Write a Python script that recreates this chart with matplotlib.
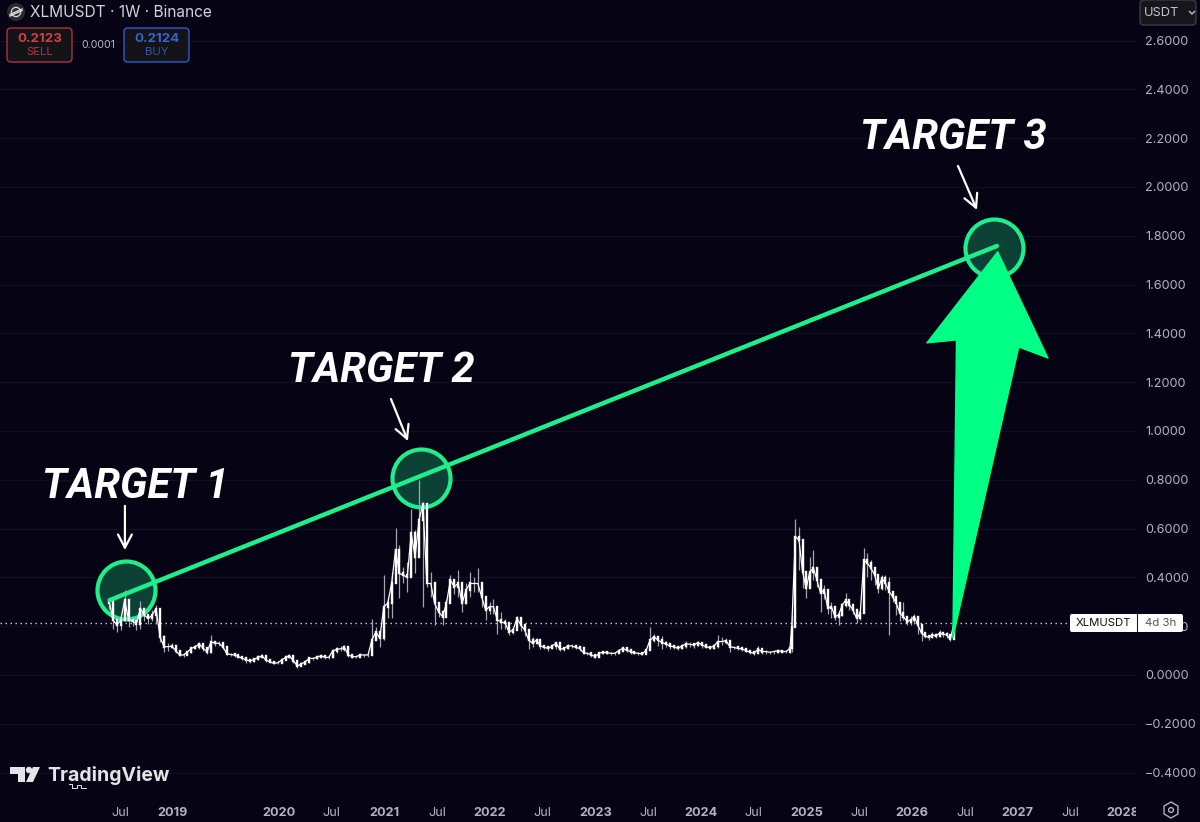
import matplotlib
matplotlib.use('Agg')
import matplotlib.pyplot as plt
import numpy as np
from matplotlib.patches import Circle, FancyBboxPatch, Polygon, RegularPolygon
from matplotlib.transforms import Bbox, TransformedBbox

# candles in four stretches
closes_a = [.307,.225,.205,.225,.307,.225,.22,.21,.272,.245,
            .232,.245,.272,.157,.116,.116,.118,.10,.082,.082,
            .095,.109,.116,.127,.109,.095,.136,.13,.13,.116,
            .088,.084,.082,.075,.068,.061,.058,.064,.072,.078,
            .061,.054,.048,.05,.061,.072,.078,.058,.037,.045,
            .054,.068,.068,.072,.079,.072,.072,.098,.105,.107,
            .113,.082,.075,.075,.082,.082,.082,.143]
highs_a = [.31,.29,.225,.245,.35,.245,.24,.23,.305,.272,
           .25,.265,.287,.21,.163,.13,.13,.118,.10,.09,
           .10,.115,.122,.135,.125,.105,.163,.14,.138,.13,
           .105,.09,.088,.082,.075,.075,.065,.07,.08,.088,
           .075,.062,.056,.056,.068,.08,.088,.08,.05,.052,
           .06,.075,.075,.08,.088,.08,.08,.105,.115,.118,
           .122,.113,.085,.082,.09,.088,.09,.23]
lows_a = [.27,.19,.177,.185,.22,.195,.2,.185,.19,.22,
          .21,.22,.21,.136,.095,.1,.109,.09,.076,.075,
          .08,.09,.105,.105,.1,.085,.09,.12,.118,.105,
          .08,.078,.075,.068,.06,.05,.05,.055,.06,.07,
          .055,.048,.044,.044,.048,.06,.07,.05,.03,.036,
          .045,.05,.06,.065,.07,.065,.065,.07,.09,.098,
          .098,.075,.068,.068,.072,.074,.074,.08]

closes_b = [.177,.15,.28,.293,.375,.512,.416,.409,.40,.58,
            .484,.634,.702,.375,.375,.293,.259,.239,.293,.389,
            .362,.375,.293,.348,.375,.375,.375,.32,.266,.28,
            .28,.225,.218,.211,.177,.184,.232,.205,.184,.143,
            .13,.143,.119,.113,.109,.119,.13,.105,.109,.119,
            .119,.113,.109,.091,.089,.082,.075,.089,.094,.091,
            .089,.089,.10,.109,.102,.095,.091,.089,.086,.102,
            .143,.157,.143]
highs_b = [.198,.177,.41,.32,.423,.604,.532,.443,.464,.682,
           .593,.798,.71,.468,.423,.32,.28,.265,.31,.409,
           .39,.43,.32,.375,.423,.40,.44,.36,.30,.30,
           .31,.26,.26,.23,.195,.195,.24,.225,.195,.155,
           .157,.15,.135,.12,.115,.125,.137,.115,.115,.125,
           .125,.12,.115,.1,.095,.088,.082,.095,.1,.098,
           .095,.095,.108,.115,.11,.102,.098,.095,.092,.11,
           .198,.17,.155]
lows_b = [.143,.113,.143,.232,.232,.416,.314,.375,.341,.402,
          .416,.498,.28,.36,.32,.205,.239,.205,.26,.307,
          .33,.32,.259,.29,.32,.34,.34,.28,.225,.25,
          .25,.17,.19,.19,.163,.17,.2,.18,.16,.105,
          .115,.125,.108,.105,.1,.105,.105,.098,.1,.108,
          .11,.105,.098,.085,.08,.075,.07,.075,.088,.085,
          .082,.082,.09,.1,.095,.088,.085,.082,.08,.085,
          .105,.135,.12]

closes_c = [.133,.127,.119,.116,.109,.119,.127,.126,.123,.133,
            .123,.116,.112,.119,.137,.137,.141,.116,.113,.109,
            .107,.10,.093,.089,.105,.096,.096,.093,.096,.10,
            .096,.096,.109]
highs_c = [.16,.14,.128,.122,.116,.128,.14,.136,.132,.14,
           .13,.122,.118,.125,.164,.155,.15,.135,.12,.115,
           .112,.106,.10,.10,.118,.108,.104,.1,.102,.106,
           .102,.102,.118]
lows_c = [.105,.115,.108,.108,.103,.105,.112,.115,.112,.118,
          .112,.11,.106,.108,.112,.122,.125,.096,.107,.103,
          .1,.094,.086,.08,.085,.086,.088,.086,.088,.09,
          .09,.09,.092]

closes_d = [.198,.567,.553,.423,.355,.423,.437,.389,.335,.348,
            .273,.28,.239,.246,.287,.307,.287,.266,.232,.253,
            .471,.458,.437,.41,.355,.396,.376,.342,.321,.294,
            .253,.239,.219,.225,.239,.205,.171,.16,.154,.164,
            .16,.171,.167,.164,.146,.2123]
highs_d = [.246,.638,.608,.492,.423,.485,.512,.444,.369,.369,
           .31,.30,.26,.26,.295,.335,.30,.28,.245,.27,
           .519,.50,.47,.425,.40,.41,.41,.40,.335,.31,
           .29,.30,.235,.24,.25,.24,.205,.172,.165,.175,
           .172,.185,.178,.175,.17,.30]
lows_d = [.096,.198,.43,.355,.314,.355,.39,.36,.26,.31,
          .25,.232,.225,.205,.24,.28,.265,.25,.215,.225,
          .253,.403,.39,.37,.335,.35,.35,.164,.30,.247,
          .22,.225,.205,.205,.21,.17,.14,.15,.145,.15,
          .15,.155,.155,.15,.14,.146]

# first and last year of each stretch
spans = [(2018.394, 2020.884), (2020.922, 2023.593), (2023.63, 2024.843), (2024.86, 2026.396)]

price_ticks = [-0.4, -0.2, 0.0, 0.2, 0.4, 0.6, 0.8, 1.0, 1.2, 1.4, 1.6, 1.8, 2.0, 2.2, 2.4, 2.6]
time_ticks = [2018.5, 2019, 2020, 2020.5, 2021, 2021.5, 2022, 2022.5, 2023, 2023.5,
              2024, 2024.5, 2025, 2025.5, 2026, 2026.5, 2027, 2027.5, 2028]
time_labels = ['Jul', '2019', '2020', 'Jul', '2021', 'Jul', '2022', 'Jul', '2023', 'Jul',
               '2024', 'Jul', '2025', 'Jul', '2026', 'Jul', '2027', 'Jul', '2028']

last_price = 0.2123
trend_years = [2018.403, 2026.803]
trend_prices = [0.307, 1.758]
target_names = ['TARGET 1', 'TARGET 2', 'TARGET 3']
target_years = [2018.555, 2021.348, 2026.775]
target_prices = [0.348, 0.807, 1.75]
label_years = [2018.64, 2020.97, 2026.386]
label_prices = [0.771, 1.246, 2.201]
pointer_from = [(2018.545, 0.693), (2021.064, 1.131), (2026.434, 2.086)]
pointer_to = [(2018.545, 0.512), (2021.225, 0.959), (2026.614, 1.906)]
big_arrow = [(2026.81, 1.734), (2026.14, 1.361), (2026.42, 1.373), (2026.386, 0.152),
             (2027.01, 1.344), (2027.286, 1.299)]

BG = '#050314'
GRID = '#110f25'
GREEN = '#1eee8c'
ARROW = '#00ff85'
AXIS_TEXT = '#b4b4c0'
UI = 'Inter'

stretches = [(closes_a, highs_a, lows_a), (closes_b, highs_b, lows_b),
             (closes_c, highs_c, lows_c), (closes_d, highs_d, lows_d)]
years = np.concatenate([np.linspace(s[0], s[1], len(c[0])) for s, c in zip(spans, stretches)])
closes = np.concatenate([c[0] for c in stretches])
highs = np.concatenate([c[1] for c in stretches])
lows = np.concatenate([c[2] for c in stretches])
opens = np.concatenate([[closes[0] - 0.01], closes[:-1]])

fig = plt.figure(figsize=(12, 8.22), dpi=100, facecolor=BG)
ax = fig.add_axes([0, 30 / 822, 1136 / 1200, 792 / 822], facecolor=BG)
ax.set_xlim(2017.362, 2028.12)
ax.set_ylim(-0.4795, 2.766)
for s in ax.spines.values():
    s.set_visible(False)
ax.yaxis.tick_right()
ax.set_yticks(price_ticks)
ax.set_yticklabels(['%.4f' % v if v >= 0 else '\u2212%.4f' % abs(v) for v in price_ticks],
                   family=UI, fontsize=9.1, color=AXIS_TEXT)
ax.set_xticks(time_ticks)
ax.set_xticklabels(time_labels, family=UI, fontsize=9.1, color=AXIS_TEXT)
ax.tick_params(axis='both', length=0)
ax.tick_params(axis='y', pad=6.5)
ax.tick_params(axis='x', pad=10.5)
ax.grid(axis='y', color=GRID, lw=0.8)
ax.set_axisbelow(True)
clip = TransformedBbox(Bbox([[0, 0], [1136 / 1200, 1]]), fig.transFigure)
for lab in ax.get_xticklabels():
    if lab.get_text() != 'Jul':
        lab.set_fontweight('bold')
        lab.set_clip_box(clip)
        lab.set_clip_on(True)

ax.axhline(last_price, color='#d4d4dc', lw=1.0, ls=(0, (1, 2.6)), zorder=1)

# circles sit under the candles, the line goes over them
ax.scatter(target_years, target_prices, s=(2 * 29 * 0.72) ** 2, facecolor='#0c4236',
           edgecolor=GREEN, linewidth=3.0, zorder=2)

ax.vlines(years, lows, highs, color='#a6a6b0', lw=0.9, zorder=3)
ax.plot(years, closes, color='white', lw=0.9, zorder=3.5)
ax.vlines(years, np.minimum(opens, closes), np.maximum(opens, closes), color='white',
          lw=1.7, capstyle='projecting', zorder=4)

ax.plot(trend_years, trend_prices, color=GREEN, lw=3.2, solid_capstyle='round', zorder=5)
ax.add_patch(Polygon(big_arrow, closed=True, facecolor=ARROW, edgecolor=ARROW, lw=1.0,
                     joinstyle='round', zorder=6))

for name, x, y in zip(target_names, label_years, label_prices):
    ax.text(x, y, name, color='white', family='Roboto', fontsize=30, fontweight='bold',
            fontstyle='italic', ha='center', va='center', zorder=7)
for a, b in zip(pointer_from, pointer_to):
    ax.annotate('', xy=b, xytext=a, zorder=7,
                arrowprops=dict(arrowstyle='->,head_length=0.95,head_width=0.5', color='white',
                                lw=1.6, shrinkA=0, shrinkB=0))

# overlay in screen pixels for the TradingView furniture
ui = fig.add_axes([0, 0, 1, 1], facecolor='none', zorder=5)
ui.set_xlim(0, 1200)
ui.set_ylim(822, 0)
ui.axis('off')


def box(x0, y0, x1, y1, face, edge, lw=1.0, r=4):
    ui.add_patch(FancyBboxPatch((x0 + r, y0 + r), x1 - x0 - 2 * r, y1 - y0 - 2 * r,
                                boxstyle='round,pad=%d,rounding_size=%d' % (r, r),
                                facecolor=face, edgecolor=edge, lw=lw))


# symbol header
ui.add_patch(Circle((16, 12), 9, facecolor='#2b2b30', edgecolor='none'))
ui.add_patch(Circle((16, 12), 4.6, facecolor='none', edgecolor='#d8d8dc', lw=0.9))
ui.plot([10, 22], [14.5, 9], color='#d8d8dc', lw=1.0)
ui.plot([10, 22], [16, 10.5], color='#d8d8dc', lw=1.0)
ui.text(30, 12.5, 'XLMUSDT \u00b7 1W \u00b7 Binance', family=UI, fontsize=11.1, color='#d4d4da',
        ha='left', va='center')

box(7, 28, 72, 62, '#141318', '#a8343c')
ui.text(40, 38.5, '0.2123', family=UI, fontsize=9.6, fontweight='bold', color='#cf4049', ha='center', va='center')
ui.text(40, 52, 'SELL', family=UI, fontsize=8.2, color='#a83a42', ha='center', va='center')
ui.text(98, 45, '0.0001', family=UI, fontsize=7.6, color='#b8b8c0', ha='center', va='center')
box(124, 28, 189, 62, '#141318', '#2f5bc8')
ui.text(157, 38.5, '0.2124', family=UI, fontsize=9.6, fontweight='bold', color='#3563d0', ha='center', va='center')
ui.text(157, 52, 'BUY', family=UI, fontsize=8.2, color='#2f55b0', ha='center', va='center')

# currency button
box(1140, 0, 1196, 25, '#17161c', '#3a3a42')
ui.text(1144, 13, 'USDT', family=UI, fontsize=9.2, color='#c4c4cc', ha='left', va='center')
ui.plot([1189.5, 1192, 1194.5], [11.5, 14, 11.5], color='#c4c4cc', lw=1.0)

# last price tag
box(1070, 614, 1183, 632, 'white', 'none', lw=0, r=2)
ui.plot([1136.5, 1136.5], [614, 632], color='#222', lw=0.8)
ui.text(1103, 622.8, 'XLMUSDT', family=UI, fontsize=8.2, color='#111', ha='center', va='center')
ui.text(1161, 623, '4d 3h', family=UI, fontsize=8.2, color='#555', ha='center', va='center')

# settings icon
ui.add_patch(RegularPolygon((1171, 810), 6, radius=8, facecolor='none', edgecolor='#b0b0b8', lw=1.0))
ui.add_patch(Circle((1171, 810), 2.4, facecolor='none', edgecolor='#b0b0b8', lw=1.0))

# TradingView mark
LOGO = '#e4e4e6'
ui.add_patch(Polygon([(10, 767), (25, 767), (25, 782), (18, 782), (18, 774), (10, 774)], facecolor=LOGO))
ui.add_patch(Circle((29, 770), 3.2, facecolor=LOGO))
ui.add_patch(Polygon([(33, 767), (40, 767), (33, 782), (26, 782)], facecolor=LOGO))
ui.text(47, 775.5, 'TradingView', family=UI, fontsize=14, fontweight='bold', color=LOGO, ha='left', va='center')
ui.plot([69, 72, 72, 77, 77, 81, 81, 86], [784, 784, 788, 788, 785, 785, 788, 788], color=LOGO, lw=0.7)

fig.savefig('out.png', dpi=100, facecolor=BG)
